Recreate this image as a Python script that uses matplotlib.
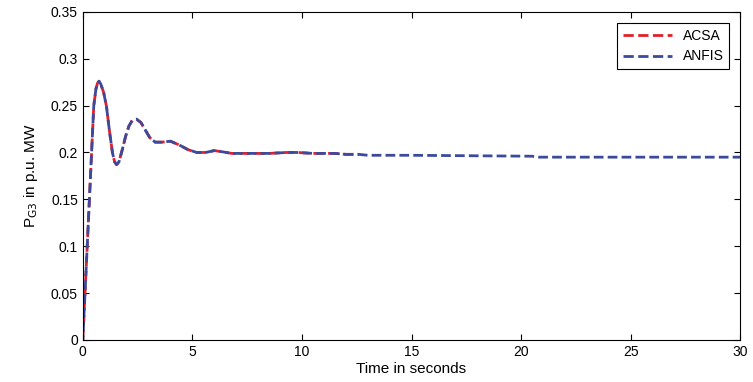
import matplotlib
matplotlib.use("Agg")
import matplotlib.pyplot as plt

# Generator 3 power response
t_acsa = [0, 0.2, 0.4, 0.5, 0.6, 0.67, 0.74, 0.82, 0.95, 1.08, 1.22, 1.35, 1.45,
          1.54, 1.65, 1.8, 1.95, 2.1, 2.25, 2.45, 2.65, 2.85, 3.05, 3.3, 3.6, 4.0,
          4.4, 4.8, 5.2, 5.6, 6.0, 6.3, 6.8, 7.5, 8.5, 9.3, 9.8, 10.5, 11.5, 12.0,
          12.6]
p_acsa = [0.0, 0.10, 0.20, 0.25, 0.268, 0.274, 0.276, 0.273, 0.264, 0.249, 0.222,
          0.200, 0.190, 0.187, 0.190, 0.203, 0.217, 0.228, 0.234, 0.2355, 0.232,
          0.224, 0.216, 0.211, 0.211, 0.212, 0.208, 0.203, 0.200, 0.200, 0.202,
          0.201, 0.199, 0.199, 0.199, 0.200, 0.200, 0.199, 0.199, 0.198, 0.198]

t_anfis = t_acsa + [13.0, 15.0, 20.5, 20.8, 30.0]
p_anfis = p_acsa + [0.197, 0.197, 0.196, 0.195, 0.195]

plt.rcParams["font.family"] = ["Liberation Sans", "DejaVu Sans"]

fig = plt.figure(figsize=(7.53, 3.82), dpi=100)
ax = fig.add_axes([0.110, 0.110, 0.873, 0.859])

ax.plot(t_acsa, p_acsa, color="#e0202a", linestyle="--", linewidth=2, label="ACSA")
ax.plot(t_anfis, p_anfis, color="#3c4a9c", linestyle=(2, (3.5, 1.5)), linewidth=2,
        label="ANFIS")

ax.set_xlim(0, 30)
ax.set_ylim(0, 0.35)
ax.set_xticks(range(0, 31, 5))
ax.set_yticks([0, 0.05, 0.1, 0.15, 0.2, 0.25, 0.3, 0.35])
ax.set_yticklabels(["0", "0.05", "0.1", "0.15", "0.2", "0.25", "0.3", "0.35"])
ax.tick_params(direction="in", labelsize=10, top=True, right=True, length=4)
ax.set_xlabel("Time in seconds", fontsize=11, labelpad=2)
ax.set_ylabel("P$_{\\mathrm{G3}}$ in p.u. MW", fontsize=11, labelpad=8)

leg = ax.legend(loc="upper right", fontsize=10, fancybox=False, framealpha=1,
                edgecolor="black", handlelength=3.5, borderaxespad=0.8)
leg.get_frame().set_linewidth(0.8)
# legend handles use the plain dash pattern, as in the original
for h in leg.get_lines():
    h.set_linestyle("--")

fig.savefig("out.png", dpi=100)
